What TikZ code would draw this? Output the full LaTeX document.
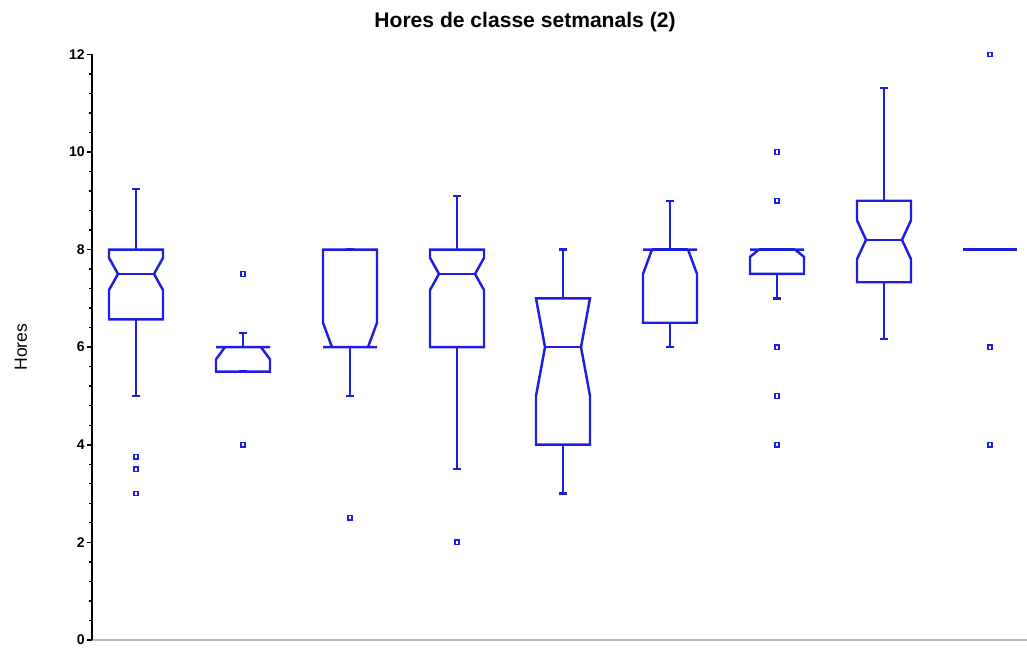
\documentclass[tikz,border=0pt]{standalone}
\usepackage{fontspec}
\setmainfont{Liberation Sans}
\definecolor{boxblue}{RGB}{30,30,225}
\tikzset{bx/.style={boxblue, line width=1.4pt},
         outl/.style={boxblue, line width=0.7pt},
         ticklab/.style={anchor=east, inner sep=0pt, font=\bfseries\fontsize{8}{9}\selectfont}}
% notched box: x, low whisker, q1, notch low, median, notch high, q3, high whisker
\newcommand{\nbox}[8]{%
\draw [bx] (#1-27,#3) -- (#1-27,#4) -- (#1-18,#5) -- (#1-27,#6) -- (#1-27,#7) -- (#1+27,#7) -- (#1+27,#6) -- (#1+18,#5) -- (#1+27,#4) -- (#1+27,#3) -- cycle;
\draw [bx] (#1-18,#5) -- (#1+18,#5);
\draw [bx] (#1,#7) -- (#1,#8) (#1-4,#8) -- (#1+4,#8);
\draw [bx] (#1,#3) -- (#1,#2) (#1-4,#2) -- (#1+4,#2);}
\newcommand{\outpt}[2]{\draw [outl] (#1-2,#2-0.045) rectangle (#1+2,#2+0.045);}
\begin{document}
\begin{tikzpicture}[x=0.02cm, y=0.976cm]
\useasboundingbox (0,-0.2664) rectangle (1027,13.115);
% axes
\draw [gray!55, line width=1.5pt] (92,0) -- (1027,0);
\draw [line width=1.1pt] (92,0) -- (92,12);
\foreach \k in {0,...,30} \draw [line width=0.8pt] (89,{\k*0.4}) -- (92,{\k*0.4});
\foreach \v in {0,2,...,12} {
  \draw [line width=0.9pt] (87,\v) -- (92,\v);
  \node [ticklab] (t\v) at (85,\v) {\v};
}
\node [font=\bfseries\fontsize{12}{14}\selectfont] (title) at (525,12.66) {Hores de classe setmanals (2)};
\node [rotate=90, font=\fontsize{10}{12}\selectfont] (ylab) at (21,6) {Hores};
% boxes
\nbox{136}{5}{6.57}{7.17}{7.5}{7.83}{8}{9.24}
\nbox{243}{5.5}{5.5}{5.75}{6}{6}{6}{6.29}
\nbox{350}{5}{6}{6}{6}{6.5}{8}{8}
\nbox{457}{3.5}{6}{7.17}{7.5}{7.83}{8}{9.1}
\nbox{563}{3}{4}{5}{6}{7}{7}{8}
\nbox{670}{6}{6.5}{7.5}{8}{8}{8}{9}
\nbox{777}{7}{7.5}{7.85}{8}{8}{8}{8}
\nbox{884}{6.17}{7.33}{7.8}{8.2}{8.6}{9}{11.31}
\draw [bx] (963,8) -- (1017,8);
% outliers
\outpt{136}{3.75} \outpt{136}{3.5} \outpt{136}{3}
\outpt{243}{7.5} \outpt{243}{4}
\outpt{350}{2.5}
\outpt{457}{2}
\outpt{777}{10} \outpt{777}{9} \outpt{777}{6} \outpt{777}{5} \outpt{777}{4}
\outpt{990}{12} \outpt{990}{6} \outpt{990}{4}
\end{tikzpicture}
\end{document}
